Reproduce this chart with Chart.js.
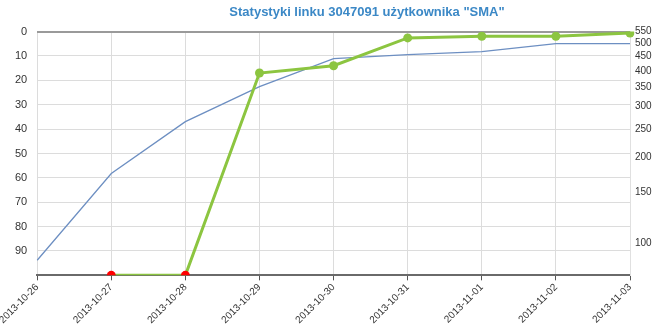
<!DOCTYPE html>
<html>
<head>
<meta charset="utf-8">
<script src="https://cdn.jsdelivr.net/npm/chart.js@4/dist/chart.umd.min.js"></script>
<style>
  html, body { margin: 0; padding: 0; background: #fff; }
  #wrap { width: 654px; height: 327px; position: relative; }
</style>
</head>
<body>
<div id="wrap"><canvas id="chart"></canvas></div>
<script>
const title = 'Statystyki linku 3047091 użytkownika "SMA"';
const dates = ['2013-10-26', '2013-10-27', '2013-10-28', '2013-10-29', '2013-10-30',
               '2013-10-31', '2013-11-01', '2013-11-02', '2013-11-03'];
// pozycja (left axis, reversed); 100 = poza listą (red marker)
const positions = [null, 100, 100, 17, 14, 2.6, 1.9, 1.9, 0.6];
// licznik (right axis, log)
const counts = [87, 175, 266, 353, 442, 457, 468, 499, 499];
const leftTicks = [0, 10, 20, 30, 40, 50, 60, 70, 80, 90, 100];
const rightTicks = [100, 150, 200, 250, 300, 350, 400, 450, 500, 550];

Chart.defaults.font.family = '"Liberation Sans", Arial, sans-serif';
Chart.defaults.color = '#444';

// title in the original sits a bit right of the middle
const shiftTitle = {
    id: 'shiftTitle',
    afterLayout(chart) {
        if (chart.titleBlock) chart.titleBlock.left = 80;
    }
};

const config = {
    type: 'line',
    data: {
        labels: dates,
        datasets: [{
            label: 'Pozycja',
            data: positions,
            yAxisID: 'y',
            borderColor: '#8cc540',
            borderWidth: 3,
            pointRadius: 4.5,
            pointBorderWidth: 0,
            pointBackgroundColor: ctx => ctx.raw >= 100 ? '#ff0000' : '#8cc540',
            order: 0
        }, {
            label: 'Licznik',
            data: counts,
            yAxisID: 'y1',
            borderColor: '#6d8fc2',
            borderWidth: 1.3,
            pointRadius: 0,
            order: 1
        }]
    },
    options: {
        responsive: true,
        maintainAspectRatio: false,
        animation: false,
        layout: { padding: { top: 1, right: 0, bottom: 0, left: 0 } },
        plugins: {
            legend: { display: false },
            tooltip: { enabled: false },
            title: {
                display: true,
                text: title,
                color: '#3b88c6',
                font: { size: 13, weight: 'bold' },
                padding: { top: 4, bottom: 11 }
            }
        },
        scales: {
            x: {
                offset: false,
                grid: {
                    color: '#dcdcdc',
                    lineWidth: 1,
                    drawTicks: true,
                    tickLength: 5,
                    tickColor: '#555'
                },
                border: { color: '#6a6a6a', width: 2 },
                ticks: {
                    font: { size: 10 },
                    color: '#333',
                    minRotation: 45,
                    maxRotation: 45,
                    autoSkip: false,
                    padding: 1
                }
            },
            y: {
                position: 'left',
                reverse: true,
                min: 0,
                max: 100,
                afterBuildTicks: axis => { axis.ticks = leftTicks.map(v => ({ value: v })); },
                afterFit: axis => { axis.width = 37; },
                grid: {
                    color: ctx => ctx.tick && ctx.tick.value === 0 ? '#9a9a9a' : '#dcdcdc',
                    lineWidth: ctx => ctx.tick && ctx.tick.value === 0 ? 2 : 1,
                    drawTicks: false
                },
                border: { display: false },
                ticks: {
                    font: { size: 11 },
                    color: '#333',
                    padding: 10,
                    callback: v => v === 100 ? '' : v
                }
            },
            y1: {
                type: 'logarithmic',
                position: 'right',
                min: 77,
                max: 550,
                afterBuildTicks: axis => { axis.ticks = rightTicks.map(v => ({ value: v })); },
                afterFit: axis => { axis.width = 24; },
                grid: { display: false, drawOnChartArea: false, drawTicks: false },
                border: { color: '#e0e0e0', width: 1 },
                ticks: {
                    font: { size: 10 },
                    color: '#333',
                    padding: 5,
                    callback: v => v
                }
            }
        }
    },
    plugins: [shiftTitle]
};

new Chart(document.getElementById('chart'), config);
</script>
</body>
</html>
